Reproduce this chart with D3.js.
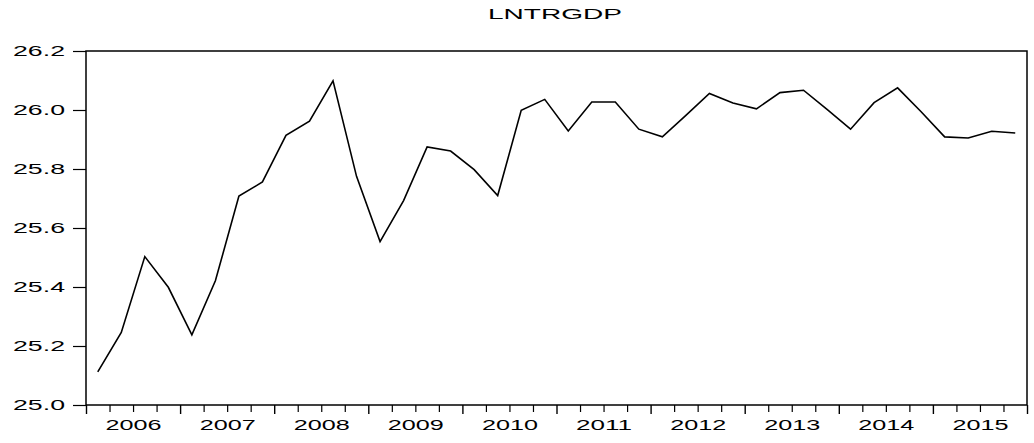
<!DOCTYPE html>
<html>
<head>
<meta charset="utf-8">
<script src="https://cdn.jsdelivr.net/npm/d3@7"></script>
<style>
  html, body { margin: 0; padding: 0; background: #fff; }
  svg { display: block; }
  text { font-family: "Liberation Sans", Arial, sans-serif; fill: #000; }
</style>
</head>
<body>
<svg id="chart" width="1034" height="443"></svg>
<script>
// ---- data ----
const title = "LNTRGDP";
const years = ["2006","2007","2008","2009","2010","2011","2012","2013","2014","2015"];
const quarters = ["2006Q1","2006Q2","2006Q3","2006Q4","2007Q1","2007Q2","2007Q3","2007Q4",
  "2008Q1","2008Q2","2008Q3","2008Q4","2009Q1","2009Q2","2009Q3","2009Q4",
  "2010Q1","2010Q2","2010Q3","2010Q4","2011Q1","2011Q2","2011Q3","2011Q4",
  "2012Q1","2012Q2","2012Q3","2012Q4","2013Q1","2013Q2","2013Q3","2013Q4",
  "2014Q1","2014Q2","2014Q3","2014Q4","2015Q1","2015Q2","2015Q3","2015Q4"];
const lntrgdp = [25.112, 25.246, 25.503, 25.399, 25.238, 25.421, 25.708, 25.756,
  25.914, 25.962, 26.099, 25.775, 25.554, 25.693, 25.875, 25.861,
  25.798, 25.710, 25.999, 26.036, 25.929, 26.027, 26.027, 25.935,
  25.909, 25.982, 26.056, 26.024, 26.004, 26.059, 26.067, 26.002,
  25.935, 26.025, 26.075, 25.994, 25.909, 25.905, 25.928, 25.922];
const yTicks = [25.0, 25.2, 25.4, 25.6, 25.8, 26.0, 26.2];

// ---- layout ----
const svg = d3.select("#chart");
const L = 86, R = 1027, T = 51, B = 405;

const x = d3.scaleLinear().domain([0, quarters.length]).range([L, R]);
const y = d3.scaleLinear().domain([25.0, 26.2]).range([B, T]);

// title
svg.append("text")
  .attr("x", 555).attr("y", 19)
  .attr("text-anchor", "middle")
  .attr("font-size", 15)
  .attr("textLength", 134).attr("lengthAdjust", "spacingAndGlyphs")
  .text(title);

// left axis
const yAxis = svg.append("g")
  .attr("transform", `translate(${L},0)`)
  .call(d3.axisLeft(y).tickValues(yTicks).tickFormat(d3.format(".1f")).tickSize(13).tickPadding(8));
yAxis.select(".domain").remove();
yAxis.selectAll(".tick line").attr("stroke", "#000").attr("stroke-width", 1.2);
yAxis.selectAll(".tick text")
  .attr("font-size", 15)
  .attr("font-family", "Liberation Sans, Arial, sans-serif")
  .attr("textLength", 52).attr("lengthAdjust", "spacingAndGlyphs");

// bottom axis: minor quarter ticks + major year ticks
const minorIdx = d3.range(0, quarters.length + 1).filter(i => i % 4 !== 0);
const majorIdx = d3.range(0, quarters.length + 1, 4);
const xMinor = svg.append("g").attr("transform", `translate(0,${B})`)
  .call(d3.axisBottom(x).tickValues(minorIdx).tickSize(7).tickFormat(""));
xMinor.select(".domain").remove();
xMinor.selectAll(".tick line").attr("stroke", "#000").attr("stroke-width", 1.2);
const xMajor = svg.append("g").attr("transform", `translate(0,${B})`)
  .call(d3.axisBottom(x).tickValues(majorIdx).tickSize(9).tickFormat(""));
xMajor.select(".domain").remove();
xMajor.selectAll(".tick line").attr("stroke", "#000").attr("stroke-width", 1.4);

// year labels centered in each year
const yearCenters = years.map((yr, i) => ({ yr, v: i * 4 + 2 }));
const xLab = svg.append("g").attr("transform", `translate(0,${B})`)
  .call(d3.axisBottom(x).tickValues(yearCenters.map(d => d.v))
    .tickFormat((d) => years[(d - 2) / 4]).tickSize(0).tickPadding(14));
xLab.select(".domain").remove();
xLab.selectAll(".tick text")
  .attr("font-size", 15)
  .attr("font-family", "Liberation Sans, Arial, sans-serif")
  .attr("textLength", 56).attr("lengthAdjust", "spacingAndGlyphs");

// frame
svg.append("rect")
  .attr("x", L).attr("y", T).attr("width", R - L).attr("height", B - T)
  .attr("fill", "none").attr("stroke", "#000").attr("stroke-width", 1.5);

// line
const line = d3.line().x((d, i) => x(i + 0.5)).y(d => y(d));
svg.append("path")
  .datum(lntrgdp)
  .attr("d", line)
  .attr("fill", "none")
  .attr("stroke", "#000")
  .attr("stroke-width", 1.6)
  .attr("stroke-linejoin", "miter");
</script>
</body>
</html>
